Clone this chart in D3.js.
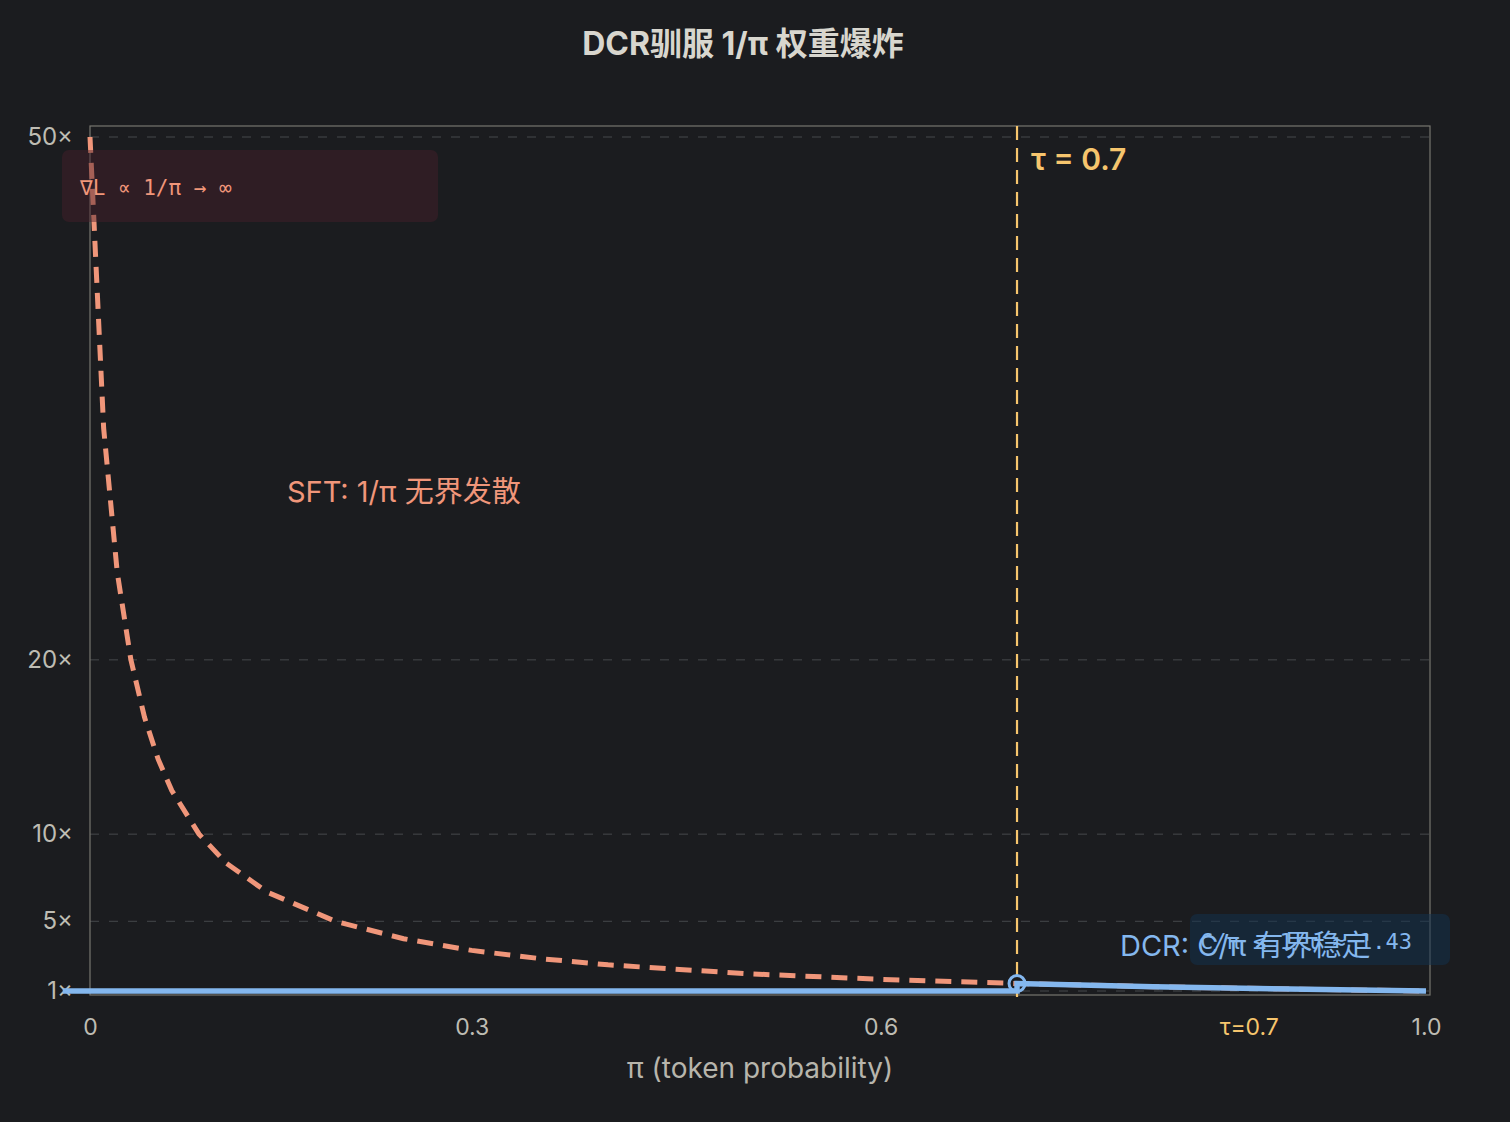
<!DOCTYPE html>
<html>
<head>
<meta charset="utf-8">
<script src="https://cdn.jsdelivr.net/npm/d3@7"></script>
<style>
  html, body { margin: 0; padding: 0; background: #1b1c1f; }
  svg { display: block; font-family: "Inter", "Noto Sans CJK SC", sans-serif; }
  .mono { font-family: "DejaVu Sans Mono", "Liberation Mono", monospace; }
</style>
</head>
<body>
<svg id="chart"></svg>
<script>
// values
const tau = 0.7;
const sftPi     = [0.02, 0.03, 0.04, 0.05, 0.06, 0.07, 0.08, 0.1, 0.12, 0.15, 0.2, 0.25, 0.3, 0.35, 0.4, 0.5, 0.6, 0.7, 0.8, 0.9, 1.0];
const sftWeight = [50, 33.3, 25, 20, 16.7, 14.3, 12.5, 10, 8.33, 6.67, 5, 4, 3.33, 2.86, 2.5, 2, 1.67, 1.43, 1.25, 1.11, 1];
const dcrPi     = [0, 0.7, 0.7, 0.8, 0.9, 1.0];
const dcrWeight = [1, 1, 1.43, 1.25, 1.11, 1];
const yTicks      = [1, 5, 10, 20, 50];
const yTickLabels = ["1×", "5×", "10×", "20×", "50×"];
const xTicks      = [0.02, 0.3, 0.6, 0.87, 1.0];
const xTickLabels = ["0", "0.3", "0.6", "τ=0.7", "1.0"];

function getConfig() {
    let width = 1510;
    let height = 1122;
    let margin = { top: 137, bottom: 131, left: 90, right: 84 };  // plot spans x 90..1426, y 137..991
    let container = d3.select("#chart").attr("width", width).attr("height", height);
    return { width, height, margin, container };
}

function getScales(config) {
    let { width, height, margin } = config;
    let xScale = d3.scaleLinear()
        .domain([0.02, 1.0])
        .range([margin.left, width - margin.right]);
    let yScale = d3.scaleLinear()
        .domain([1, 50])
        .range([height - margin.bottom, margin.top]);
    return { xScale, yScale };
}

function drawFrame(scales, config) {
    let { container } = config;
    let { xScale, yScale } = scales;
    let x0 = xScale(0.02), x1 = xScale(1.0) + 4;
    let y0 = yScale(50) - 11, y1 = yScale(1) + 4;

    // dashed horizontal grid
    container.append("g").selectAll("line")
        .data(yTicks)
        .enter().append("line")
        .attr("x1", x0).attr("x2", x1)
        .attr("y1", d => yScale(d)).attr("y2", d => yScale(d))
        .attr("stroke", "#46484c")
        .attr("stroke-width", 1)
        .attr("stroke-dasharray", "9,10");

    container.append("rect")
        .attr("x", x0).attr("y", y0)
        .attr("width", x1 - x0).attr("height", y1 - y0)
        .attr("fill", "none")
        .attr("stroke", "#77766f")
        .attr("stroke-width", 1.2);
}

function drawAxes(scales, config) {
    let { container } = config;
    let { xScale, yScale } = scales;

    let axisX = d3.axisBottom(xScale)
        .tickValues(xTicks)
        .tickSize(0)
        .tickPadding(24)
        .tickFormat((d, i) => xTickLabels[i]);
    let gx = container.append("g")
        .attr("transform", "translate(0," + (yScale(1) + 4) + ")")
        .call(axisX);
    gx.select(".domain").remove();
    gx.selectAll("text")
        .attr("font-size", 23)
        .attr("font-family", "Inter, 'Noto Sans CJK SC', sans-serif")
        .attr("fill", (d, i) => i === 3 ? "#f6c56d" : "#bebcb3");

    let axisY = d3.axisLeft(yScale)
        .tickValues(yTicks)
        .tickSize(0)
        .tickPadding(17)
        .tickFormat((d, i) => yTickLabels[i]);
    let gy = container.append("g")
        .attr("transform", "translate(" + xScale(0.02) + ",0)")
        .call(axisY);
    gy.select(".domain").remove();
    gy.selectAll("text")
        .attr("font-size", 24)
        .attr("font-family", "Inter, 'Noto Sans CJK SC', sans-serif")
        .attr("fill", "#bebcb3");

    container.append("text")
        .attr("x", 760).attr("y", 1078)
        .attr("text-anchor", "middle")
        .attr("font-size", 28)
        .attr("fill", "#b7b5ac")
        .text("π (token probability)");

    container.append("text")
        .attr("x", 743).attr("y", 55)
        .attr("text-anchor", "middle")
        .attr("font-size", 32)
        .attr("font-weight", "bold")
        .attr("fill", "#d8d6ce")
        .text("DCR驯服 1/π 权重爆炸");
}

function drawLines(scales, config) {
    let { container } = config;
    let { xScale, yScale } = scales;
    let line = d3.line()
        .x(d => xScale(d[0]))
        .y(d => yScale(d[1]));

    // tau threshold
    container.append("line")
        .attr("x1", xScale(tau)).attr("x2", xScale(tau))
        .attr("y1", yScale(50) - 11).attr("y2", yScale(1) + 6)
        .attr("stroke", "#f6c56d")
        .attr("stroke-width", 2.2)
        .attr("stroke-dasharray", "14,8");

    container.append("text")
        .attr("x", xScale(tau) + 14).attr("y", 170)
        .attr("font-size", 30)
        .attr("font-weight", 600)
        .attr("fill", "#f6c56d")
        .text("τ = " + tau);

    // SFT: unbounded 1/pi
    container.append("path")
        .datum(d3.zip(sftPi, sftWeight))
        .attr("d", line)
        .attr("fill", "none")
        .attr("stroke", "#f0967a")
        .attr("stroke-width", 5)
        .attr("stroke-dasharray", "16,10");

    // DCR: clipped
    container.append("path")
        .datum(d3.zip(dcrPi, dcrWeight))
        .attr("d", line)
        .attr("fill", "none")
        .attr("stroke", "#84b7ee")
        .attr("stroke-width", 5.5);

    container.append("circle")
        .attr("cx", xScale(tau)).attr("cy", yScale(1.43))
        .attr("r", 8)
        .attr("fill", "none")
        .attr("stroke", "#84b7ee")
        .attr("stroke-width", 3);
}

function drawNotes(scales, config) {
    let { container } = config;

    // annotation boxes first, labels on top
    container.append("rect")
        .attr("x", 62).attr("y", 150).attr("width", 376).attr("height", 72)
        .attr("rx", 7)
        .attr("fill", "#4a1f2a").attr("fill-opacity", 0.45);
    container.append("text")
        .attr("class", "mono")
        .attr("x", 80).attr("y", 195)
        .attr("font-size", 21)
        .attr("fill", "#f0967a")
        .text("∇L ∝ 1/π → ∞");

    container.append("rect")
        .attr("x", 1190).attr("y", 914).attr("width", 260).attr("height", 51)
        .attr("rx", 7)
        .attr("fill", "#12314f").attr("fill-opacity", 0.5);
    container.append("text")
        .attr("class", "mono")
        .attr("x", 1200).attr("y", 949)
        .attr("font-size", 22)
        .attr("fill", "#84b7ee")
        .text("C/π ≤ 1/τ ≈ 1.43");

    container.append("text")
        .attr("x", 287).attr("y", 502)
        .attr("font-size", 29)
        .attr("fill", "#f0967a")
        .text("SFT: 1/π 无界发散");

    container.append("text")
        .attr("x", 1120).attr("y", 956)
        .attr("font-size", 29)
        .attr("fill", "#84b7ee")
        .text("DCR: C/π 有界稳定");
}

function drawChart() {
    let config = getConfig();
    let scales = getScales(config);
    drawFrame(scales, config);
    drawAxes(scales, config);
    drawLines(scales, config);
    drawNotes(scales, config);
}

drawChart();
</script>
</body>
</html>
